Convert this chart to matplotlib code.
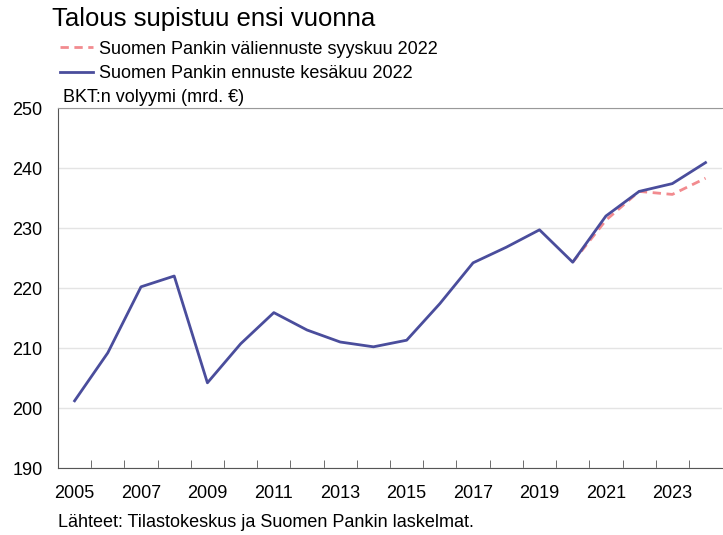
import numpy as np
import matplotlib
matplotlib.use("Agg")
import matplotlib.pyplot as plt

plt.rcParams['font.family'] = ['Liberation Sans', 'DejaVu Sans']

years = list(range(2005, 2025))
kesakuu = [201.2, 209.2, 220.2, 222.0, 204.2, 210.7, 215.9, 213.0, 211.0, 210.2,
           211.3, 217.4, 224.2, 226.8, 229.7, 224.3, 232.0, 236.1, 237.4, 240.9]
syys_years = [2020, 2021, 2022, 2023, 2024]
syyskuu = [224.3, 231.3, 236.1, 235.6, 238.3]

label_syys = "Suomen Pankin väliennuste syyskuu 2022"
label_kesa = "Suomen Pankin ennuste kesäkuu 2022"

fig = plt.figure(figsize=(7.23, 5.35), dpi=100)
ax = fig.add_axes([0.0802, 0.1252, 0.9186, 0.6729])

l2, = ax.plot(syys_years, syyskuu, color="#f28b8f", lw=2, ls=(0, (3, 2)), zorder=2)
l1, = ax.plot(years, kesakuu, color="#4a4d9c", lw=2, zorder=3)

ax.set_xlim(2004.5, 2024.5)
ax.set_ylim(190, 250)
ax.set_yticks(np.arange(190, 251, 10))
ax.set_xticks(np.arange(2005, 2024, 2))
ax.set_xticks(np.arange(2005.5, 2024.5, 1), minor=True)
ax.tick_params(axis="x", which="major", length=0, pad=12, labelsize=13, colors="#000000")
ax.tick_params(axis="x", which="minor", direction="in", length=6, color="#555555")
ax.tick_params(axis="y", length=0, pad=11, labelsize=13)
ax.grid(axis="y", color="#e4e4e4", lw=1)
ax.set_axisbelow(True)

ax.spines["right"].set_visible(False)
ax.spines["top"].set_color("#999999")
ax.spines["left"].set_color("#555555")
ax.spines["bottom"].set_color("#555555")

ax.text(0.008, 1.005, "BKT:n volyymi (mrd. €)", transform=ax.transAxes,
        fontsize=13, va="bottom", ha="left")

fig.text(0.072, 0.964, "Talous supistuu ensi vuonna", fontsize=18.5, va="center", ha="left")
fig.legend([l2, l1], [label_syys, label_kesa], loc="upper left",
           bbox_to_anchor=(0.083, 0.924), frameon=False, fontsize=13,
           handlelength=1.8, handletextpad=0.35, labelspacing=0.4, borderpad=0,
           borderaxespad=0)

fig.text(0.08, 0.007, "Lähteet: Tilastokeskus ja Suomen Pankin laskelmat.",
         fontsize=13, va="bottom", ha="left")

fig.savefig("out.png", dpi=100)
plt.close()
